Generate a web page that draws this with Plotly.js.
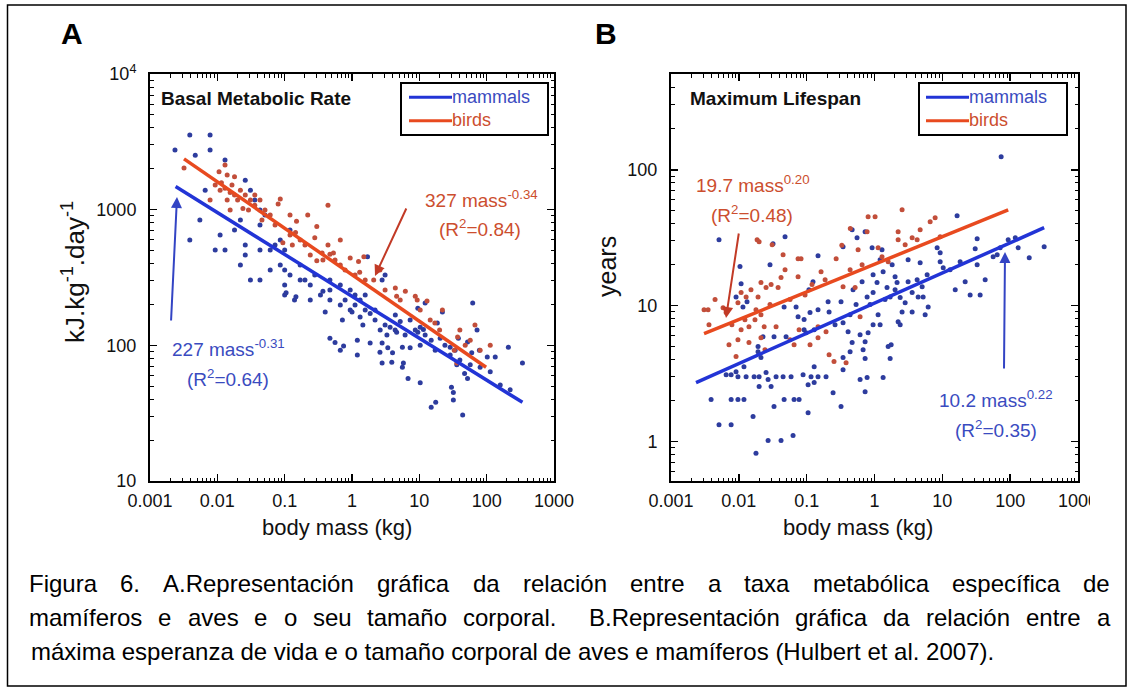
<!DOCTYPE html>
<html>
<head>
<meta charset="utf-8">
<script src="https://cdn.plot.ly/plotly-3.0.1.min.js"></script>
<style>
html,body{margin:0;padding:0;background:#fff;}
#chart{width:1133px;height:691px;}
</style>
</head>
<body>
<div id="chart"></div>
<script>
// ---------- tick labels ----------
const massTicks = [0.001, 0.01, 0.1, 1, 10, 100, 1000];
const massTickText = ['0.001', '0.01', '0.1', '1', '10', '100', '1000'];
const bmrTicks = [10, 100, 1000, 10000];
const bmrTickText = ['10', '100', '1000', '10<sup>4</sup>'];
const lifeTicks = [1, 10, 100];
const lifeTickText = ['1', '10', '100'];

// ---------- series names ----------
const seriesNames = ['mammals', 'birds'];

// ---------- Panel A : basal metabolic rate (kJ/kg/day) ----------
const bmrMammalsMass = [0.00235,0.0039,0.0078,0.0078,0.0047,0.013,0.026,0.031,0.0066,0.0055,0.0039,0.0093,0.013,0.011,0.018,0.022,0.026,0.026,0.022,0.031,0.043,0.043,0.043,0.061,0.061,0.086,0.10,0.12,0.12,0.10,0.17,0.20,0.24,0.10,0.10,0.14,0.24,0.34,0.47,0.47,0.043,0.051,0.086,0.072,0.036,0.17,0.28,0.47,0.79,1.11,1.57,2.2,3.1,4.37,6.15,10.3,17.2,28.7,0.37,0.40,0.72,1.0,1.32,1.86,2.62,3.3,3.68,4.6,10.3,9.5,1.7,2.8,3.1,12.2,9.5,62,18.5,52,102,134,210,28.7,60,0.47,0.56,0.67,1.2,1.86,2.8,3.4,4.0,5.6,7.3,5.8,3.9,2.8,6.8,10.3,36,52,32,32,15,44,11.5,15,22,72,38,340,30,17.5,47,78,0.105,0.147,0.75,1.2,5.6,2.6,0.67,0.94,1.11,1.32,1.57,0.67,0.94,1.45,2.2,4.4,5.2,7.3,8.7,12.2,20.4,24,34,40,57,80,113,159,223];
const bmrMammalsRate = [2750,3550,3550,2750,2520,2320,1650,1390,1390,838,597,504,504,650,707,838,548,463,391,303,303,770,504,504,359,391,359,330,707,504,303,303,278,278,235,216,216,235,216,303,993,912,597,548,1180,391,330,256,216,198,182,154,141,130,119,100,92,85,250,176,154,176,162,172,130,119,136,125,136,125,450,303,330,205,188,205,146,106,82,82,97,97,88,113,105,92,85,104,104,96,88,97,96,74,75,74,57,53,72,57,45,39.5,35,30.6,131,109,176,130,113,74,49,38,62,92,244,228,99,109,69,89,278,256,235,216,235,198,182,141,182,167,150,154,130,119,113,100,92,78,72,69,64,51,47];
const bmrBirdsMass = [0.0032,0.0106,0.013,0.014,0.018,0.0093,0.011,0.013,0.0155,0.018,0.014,0.022,0.020,0.026,0.0165,0.0115,0.031,0.036,0.024,0.029,0.036,0.043,0.051,0.0155,0.0078,0.046,0.061,0.086,0.080,0.15,0.145,0.30,0.28,0.44,0.36,0.30,0.37,0.47,0.13,0.094,0.12,0.17,0.20,0.24,0.56,0.67,0.53,0.94,1.25,2.1,4.4,4.6,8.7,9.3,13,1.5,0.79,1.11,1.57,3.1,5.2,17,33,36,37,22,80,57,20,14.5,40,48,113,67,10.3,6.2,2.6,1.3,0.44,0.67,0.22,0.12,0.072];
const bmrBirdsRate = [2030,1900,2130,1800,1750,1520,1390,1440,1340,1280,1180,1390,1180,1280,1520,1580,1180,1280,1020,993,1080,1180,993,993,1180,838,912,1200,1100,820,680,750,620,1080,480,420,425,470,548,570,650,597,548,463,425,391,480,440,415,303,265,230,230,216,212,450,359,330,303,256,216,146,92,74,115,182,92,109,130,154,130,100,100,141,182,250,359,345,548,597,912,912,770];
// fitted power laws (end points)
const bmrMammalsFitMass = [0.0024, 340];
const bmrMammalsFitRate = [1480, 38];
const bmrBirdsFitMass = [0.0032, 98];
const bmrBirdsFitRate = [2370, 69];

// ---------- Panel B : maximum lifespan (years) ----------
const lifeMammalsMass = [0.0051,0.0319,0.048,0.147,0.344,0.0288,0.0104,0.0108,0.0132,0.0115,0.0091,0.0465,0.0747,0.0916,0.112,0.124,0.108,0.207,0.214,0.321,0.147,0.0698,0.0916,0.0497,0.033,0.0227,0.0192,0.0212,0.0119,0.0091,0.0077,0.0065,0.0097,0.0128,0.0168,0.0199,0.0252,0.027,0.0299,0.0354,0.0449,0.0589,0.0885,0.116,0.147,0.193,0.129,0.105,0.129,0.344,0.344,0.0199,0.0039,0.0077,0.0097,0.0119,0.0465,0.0652,0.0773,0.033,0.105,0.245,0.321,0.0051,0.0077,0.0162,0.027,0.0419,0.063,0.0179,0.0192,0.098,0.129,73.6,16.5,32.6,131,191,93.5,30.5,32.6,56.1,64.3,42.8,21.7,15.5,25.7,36.1,0.468,0.727,0.553,0.922,1.29,1.21,1.82,3.13,4.71,8.38,9.29,9.29,10.3,5.97,4.25,5.04,3.13,2.01,2.15,1.34,0.953,1.09,0.656,0.483,0.778,0.953,1.53,1.70,2.39,2.83,3.59,4.40,5.21,6.18,5.58,3.59,2.55,2.23,1.13,0.953,1.21,0.613,0.408,0.344,0.805,0.727,0.468,0.437,0.679,0.727,1.59,1.70,2.39,0.613,0.778,1.34,0.727,317,1.76,0.437,0.535,0.262,0.861,1.43,2.01,13.0,18.3,71.2,119];
const lifeMammalsYears = [30.6,28.6,32.2,23.3,27.2,20.0,19.4,14.5,10.7,9.8,11.6,9.8,8.3,7.9,8.9,15.0,13.1,10.7,9.0,10.7,9.35,9.8,6.66,5.92,5.92,5.92,5.0,4.15,3.56,3.27,3.11,3.11,3.0,3.0,3.0,3.0,3.22,2.86,2.54,3.0,3.0,3.0,3.11,3.0,3.0,3.0,3.56,2.62,2.72,3.38,4.15,2.54,2.04,2.04,2.04,2.04,2.04,2.04,2.04,1.81,1.63,2.29,1.81,1.33,1.33,1.53,1.02,1.02,1.11,0.82,4.59,6.33,6.66,125,45.9,31.1,26.7,22.5,30.6,26.2,20.0,22.9,23.7,15.5,15.0,13.1,12.0,12.0,36.2,35.0,31.6,26.7,25.8,21.8,20.0,21.8,20.7,26.7,24.5,21.1,19.0,16.9,15.5,13.8,15.0,16.3,14.8,17.8,16.9,14.8,15.0,13.1,11.6,12.5,13.6,11.6,11.5,10.5,12.5,11.6,11.6,9.8,8.59,9.0,9.0,7.63,8.59,7.25,7.25,6.12,6.44,7.5,6.33,5.44,5.35,4.59,4.75,4.08,5.0,4.08,7.25,2.86,2.96,2.96,2.33,27.2,5.17,8.59,10.2,7.25,10.2,11.1,13.1,18.4,21.1,26.7,31.6];
const lifeBirdsMass = [0.0199,0.0449,0.0747,0.0826,0.272,0.163,0.0419,0.0747,0.0212,0.0299,0.0379,0.0252,0.0151,0.0108,0.0128,0.0192,0.0179,0.0212,0.0097,0.0065,0.00585,0.00307,0.00363,0.0108,0.0141,0.0097,0.0141,0.00716,0.0091,0.0212,0.0236,0.0354,0.0773,0.147,0.193,0.147,0.253,0.381,0.214,0.805,1.02,2.55,6.61,7.83,0.778,2.23,3.59,2.23,4.25,1.13,1.29,0.573,0.33,0.656,0.344,0.518,0.613,9.29,0.44,0.0186,0.031,0.0652,0.00352,0.0173,0.0288,0.0569,0.0947,0.12,0.187,0.437,1.59,2.83,4.71,0.048,0.0123,0.0079,0.0243,0.0569,0.112,0.00446];
const lifeBirdsYears = [29.6,23.7,22.2,22.2,22.2,17.8,16.1,16.3,14.8,14.3,13.6,13.6,13.1,12.5,11.6,11.6,9.35,8.59,10.5,8.9,9.67,9.35,7.25,6.66,7.01,5.62,5.35,5.17,4.22,5.82,7.01,7.01,6.66,7.01,6.44,5.82,3.88,3.81,4.36,45.1,45.1,50.8,41.5,44.4,35.0,35.0,31.6,30.6,30.6,26.7,22.9,25.8,27.8,20.0,13.8,13.6,8.3,32.2,37,30.6,28.1,5.17,9.35,7.89,10.2,11.1,12.0,14.3,15.5,18.4,21.1,28.1,36.2,18.4,7.89,7.25,4.75,5.62,5.17,11.1];
const lifeMammalsFitMass = [0.00234, 317];
const lifeMammalsFitYears = [2.72, 37.5];
const lifeBirdsFitMass = [0.00307, 93.5];
const lifeBirdsFitYears = [6.22, 50.8];

// ---------- caption ----------
const captionLines = [
  'Figura 6. A.Representación gráfica da relación entre a taxa metabólica específica de',
  'mamíferos e aves e o seu tamaño corporal.  B.Representación gráfica da relación entre a',
  'máxima esperanza de vida e o tamaño corporal de aves e mamíferos (Hulbert et al. 2007).'
];

// ---------- styling ----------
const W = 1133, H = 691;
const FONT = 'Arial, "Liberation Sans", Helvetica, sans-serif';
const cMamDot = '#2d3c9e', cBirdDot = '#c24e3a';
const cMamLine = '#2234d6', cBirdLine = '#e84a1f';
const cMamText = '#3a4bc0', cBirdText = '#cc4e2e';
const px = v => v / W;
const py = v => 1 - v / H;

function minorVals(lo, hi) {
  const out = [];
  for (let e = lo; e < hi; e++) for (let k = 2; k <= 9; k++) out.push(k * Math.pow(10, e));
  return out;
}

function axis(domain, anchor, range, tv, tt, minorTicks, isX) {
  return {
    type: 'log', domain: domain, anchor: anchor, range: range,
    tickmode: 'array', tickvals: tv, ticktext: tt,
    ticks: 'inside', ticklen: 7, tickwidth: 1.5, tickcolor: '#000',
    showline: true, linewidth: 2, linecolor: '#000', mirror: 'ticks',
    showgrid: false, zeroline: false,
    tickfont: {family: FONT, size: 18, color: '#111'},
    ticklabelstandoff: isX ? 2 : 8,
    minor: {tickmode: 'array', tickvals: minorTicks, ticks: 'inside', ticklen: 3.5, tickwidth: 1, tickcolor: '#000', showgrid: false},
    fixedrange: true
  };
}

const dot = 5;
function pts(x, y, xa, ya, color, name) {
  return {x: x, y: y, type: 'scatter', mode: 'markers', xaxis: xa, yaxis: ya, name: name,
          marker: {size: dot, color: color}, showlegend: false, hoverinfo: 'skip'};
}
function fit(x, y, xa, ya, color, name) {
  return {x: x, y: y, type: 'scatter', mode: 'lines', xaxis: xa, yaxis: ya, name: name,
          line: {color: color, width: 3.5}, showlegend: false, hoverinfo: 'skip'};
}
const traces = [
  pts(bmrMammalsMass, bmrMammalsRate, 'x', 'y', cMamDot, seriesNames[0]),
  pts(bmrBirdsMass, bmrBirdsRate, 'x', 'y', cBirdDot, seriesNames[1]),
  fit(bmrMammalsFitMass, bmrMammalsFitRate, 'x', 'y', cMamLine, seriesNames[0]),
  fit(bmrBirdsFitMass, bmrBirdsFitRate, 'x', 'y', cBirdLine, seriesNames[1]),
  pts(lifeMammalsMass, lifeMammalsYears, 'x2', 'y2', cMamDot, seriesNames[0]),
  pts(lifeBirdsMass, lifeBirdsYears, 'x2', 'y2', cBirdDot, seriesNames[1]),
  fit(lifeMammalsFitMass, lifeMammalsFitYears, 'x2', 'y2', cMamLine, seriesNames[0]),
  fit(lifeBirdsFitMass, lifeBirdsFitYears, 'x2', 'y2', cBirdLine, seriesNames[1])
];

const yDom = [py(481), py(74)];
const annotations = [];
const shapes = [];
function txt(text, x, y, size, color, opts) {
  annotations.push(Object.assign({
    text: text, xref: 'paper', yref: 'paper', x: px(x), y: py(y),
    xanchor: 'center', yanchor: 'middle', showarrow: false,
    font: {family: FONT, size: size, color: color}
  }, opts || {}));
}
function arrow(hx, hy, tx, ty, color) {
  annotations.push({
    text: '', xref: 'paper', yref: 'paper', x: px(hx), y: py(hy),
    ax: tx - hx, ay: ty - hy, axref: 'pixel', ayref: 'pixel',
    showarrow: true, arrowhead: 2, arrowsize: 1.1, arrowwidth: 2, arrowcolor: color
  });
}
// boxed key in the corner of each panel (same look as the original figure)
function key(left, right, top, bottom, lineX0, lineX1) {
  shapes.push({type: 'rect', xref: 'paper', yref: 'paper', x0: px(left), x1: px(right), y0: py(bottom), y1: py(top),
               line: {color: '#000', width: 2}, fillcolor: '#fff', layer: 'above'});
  const mid = (top + bottom) / 2, half = 11.7;
  [[cMamLine, mid - half], [cBirdLine, mid + half]].forEach(function (r) {
    shapes.push({type: 'line', xref: 'paper', yref: 'paper', x0: px(lineX0), x1: px(lineX1), y0: py(r[1]), y1: py(r[1]),
                 line: {color: r[0], width: 3}, layer: 'above'});
  });
  txt('<span style="color:' + cMamText + '">' + seriesNames[0] + '</span><br>' +
      '<span style="color:' + cBirdText + '">' + seriesNames[1] + '</span>',
      lineX1 - 1, mid, 18, cMamText, {xanchor: 'left', align: 'left', borderpad: 0});
}
key(401, 548, 83, 135, 409, 452);
key(919, 1067, 83, 135, 926, 969);

// panel letters
txt('<b>A</b>', 72, 33, 30, '#000');
txt('<b>B</b>', 606, 33, 30, '#000');
// panel titles
txt('<b>Basal Metabolic Rate</b>', 159, 99, 19, '#111', {xanchor: 'left'});
txt('<b>Maximum Lifespan</b>', 688, 98, 19, '#111', {xanchor: 'left'});
// axis titles
txt('kJ.kg<sup>-1</sup>.day<sup>-1</sup>', 73, 272, 26, '#111', {textangle: -90});
txt('years', 607, 267, 25, '#111', {textangle: -90});
txt('body mass (kg)', 337, 527, 22, '#111');
txt('body mass (kg)', 858, 527, 22, '#111');
// equations
txt('327 mass<sup>-0.34</sup>', 481, 199, 19, cBirdText);
txt('(R<sup>2</sup>=0.84)', 480, 228, 19, cBirdText);
txt('227 mass<sup>-0.31</sup>', 228, 348, 19, cMamText);
txt('(R<sup>2</sup>=0.64)', 228, 378, 19, cMamText);
txt('19.7 mass<sup>0.20</sup>', 753, 184, 19, cBirdText);
txt('(R<sup>2</sup>=0.48)', 752, 214, 19, cBirdText);
txt('10.2 mass<sup>0.22</sup>', 996, 399, 19, cMamText);
txt('(R<sup>2</sup>=0.35)', 996, 429, 19, cMamText);
// arrows
arrow(375, 276, 407, 207, '#c23a26');
arrow(177, 197, 171, 322, '#3344c4');
arrow(726, 318, 739, 232, '#c23a26');
arrow(1005, 252, 1004, 370, '#3344c4');

// caption (justified lines built word by word)
(function () {
  const ctx = document.createElement('canvas').getContext('2d');
  const size = 24;
  ctx.font = size + 'px ' + FONT;
  const x0 = 29, x1 = 1110;
  const ys = [583, 617, 651];
  captionLines.forEach(function (line, i) {
    if (i === captionLines.length - 1) {
      txt(line, x0, ys[i], size, '#000', {xanchor: 'left'});
      return;
    }
    const words = line.split(' ');
    const widths = words.map(w => ctx.measureText(w).width);
    const total = widths.reduce((a, b) => a + b, 0);
    const gap = (x1 - x0 - total) / (words.length - 1);
    let x = x0;
    words.forEach(function (w, j) {
      if (w.length) txt(w, x, ys[i], size, '#000', {xanchor: 'left', borderpad: 0, borderwidth: 0});
      x += widths[j] + gap;
    });
  });
})();

// page frame + crop of the source picture just past panel B's last x label
shapes.push({type: 'rect', xref: 'paper', yref: 'paper', x0: px(7.5), x1: px(1126), y0: py(686), y1: py(5),
             line: {color: '#000', width: 1.5}, fillcolor: 'rgba(0,0,0,0)', layer: 'above'});
shapes.push({type: 'rect', xref: 'paper', yref: 'paper', x0: px(1090), x1: px(1122), y0: py(512), y1: py(486),
             line: {width: 0}, fillcolor: '#fff', layer: 'above'});

const layout = {
  width: W, height: H,
  margin: {l: 0, r: 0, t: 0, b: 0},
  paper_bgcolor: '#fff', plot_bgcolor: '#fff',
  font: {family: FONT, color: '#000'},
  xaxis: axis([px(150), px(554)], 'y', [-3, 3], massTicks, massTickText, minorVals(-3, 3), true),
  yaxis: axis(yDom, 'x', [1, 4], bmrTicks, bmrTickText, minorVals(1, 4), false),
  xaxis2: axis([px(671), px(1078)], 'y2', [-3, 3], massTicks, massTickText, minorVals(-3, 3), true),
  yaxis2: axis(yDom, 'x2', [-0.29, 2.705], lifeTicks, lifeTickText, minorVals(-1, 3).filter(v => v >= 0.5 && v <= 500), false),
  showlegend: false,
  annotations: annotations,
  shapes: shapes,
  hovermode: false
};

Plotly.newPlot('chart', traces, layout, {staticPlot: true, displayModeBar: false});
</script>
</body>
</html>
